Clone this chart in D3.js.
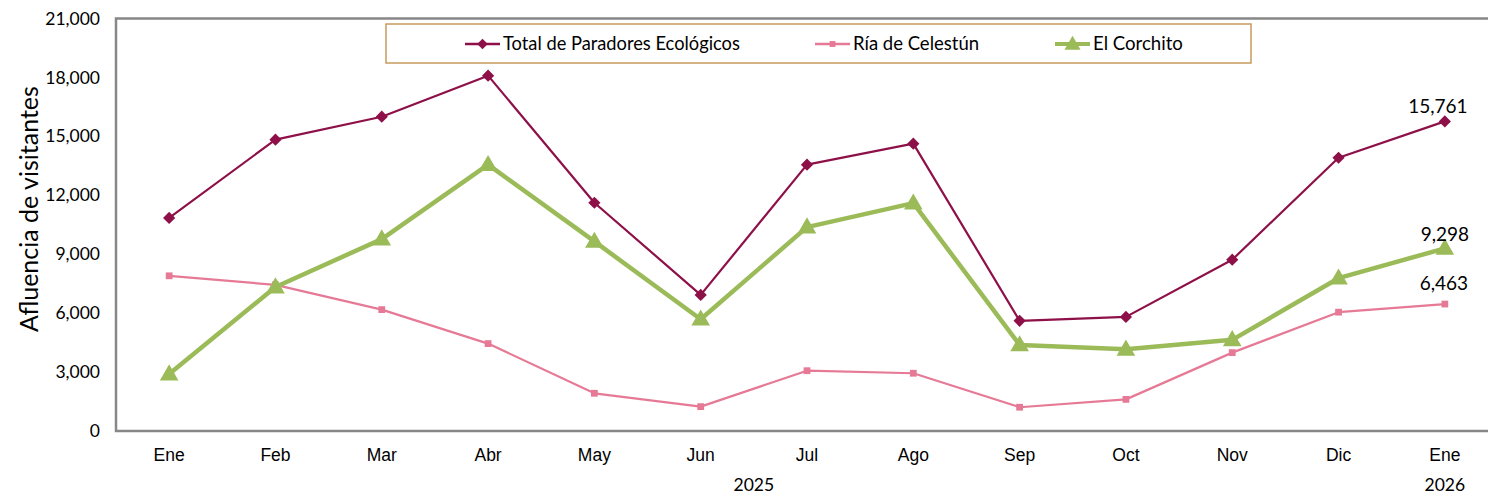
<!DOCTYPE html>
<html>
<head>
<meta charset="utf-8">
<script src="https://cdn.jsdelivr.net/npm/d3@7"></script>
<style>
  body { margin: 0; background: #fff; }
  svg { display: block; font-family: Lato, "Open Sans", sans-serif; }
</style>
</head>
<body>
<svg class="chart"></svg>
<script>
var months = ["Ene", "Feb", "Mar", "Abr", "May", "Jun", "Jul", "Ago", "Sep", "Oct", "Nov", "Dic", "Ene"];
var keys = ["Ene25", "Feb", "Mar", "Abr", "May", "Jun", "Jul", "Ago", "Sep", "Oct", "Nov", "Dic", "Ene26"];
var years = [{ label: "2025", from: 0, to: 11 }, { label: "2026", from: 12, to: 12 }];

var total = [10850, 14830, 16000, 18090, 11620, 6930, 13560, 14630, 5610, 5810, 8720, 13910, 15761];
var celestun = [7900, 7440, 6180, 4450, 1920, 1240, 3070, 2940, 1210, 1610, 3990, 6050, 6463];
var corchito = [2900, 7330, 9770, 13560, 9650, 5690, 10380, 11600, 4380, 4160, 4640, 7780, 9298];

var yTicks = [0, 3000, 6000, 9000, 12000, 15000, 18000, 21000];

var series = [
  { name: "Total de Paradores Ecológicos", values: total, color: "#8e1048", width: 2.2, marker: d3.symbolDiamond2, size: 95 },
  { name: "Ría de Celestún", values: celestun, color: "#e67a96", width: 2.2, marker: d3.symbolSquare, size: 46 },
  { name: "El Corchito", values: corchito, color: "#9bbb59", width: 4.5, marker: d3.symbolTriangle, size: 150 }
];

let W = 1488, H = 496;
let pLeft = 116, pTop = 18.5, pBottom = 431;
let pRight = 1498;

var svg = d3.select(".chart").attr("width", W).attr("height", H);

var x = d3.scaleBand().domain(keys).range([pLeft, pRight]);
var y = d3.scaleLinear().domain([0, 21000]).range([pBottom, pTop]);

// frame
svg.append("rect")
   .attr("x", pLeft).attr("y", pTop)
   .attr("width", pRight - pLeft).attr("height", pBottom - pTop)
   .attr("fill", "none")
   .attr("stroke", "#878787")
   .attr("stroke-width", 2.5);

// y axis
var ya = svg.append("g")
   .attr("transform", "translate(" + pLeft + ",0)")
   .call(d3.axisLeft(y).tickValues(yTicks).tickSize(0).tickPadding(16).tickFormat(d3.format(",")));
ya.select(".domain").remove();
ya.selectAll("text").attr("font-size", "17.5px").attr("fill", "#000").attr("font-family", "Lato");

svg.append("text")
   .attr("transform", "translate(38," + 209 + ") rotate(-90)")
   .attr("text-anchor", "middle")
   .attr("font-size", "25px")
   .attr("fill", "#000")
   .text("Afluencia de visitantes");

// x axis labels
var xa = svg.append("g")
   .attr("transform", "translate(0," + pBottom + ")")
   .call(d3.axisBottom(x).tickSize(0).tickFormat((d, i) => months[i]));
xa.select(".domain").remove();
xa.selectAll("text")
  .attr("font-size", "17.5px")
  .attr("fill", "#000")
  .attr("y", 30).attr("dy", 0);

svg.selectAll(".year")
   .data(years)
   .enter().append("text")
   .attr("class", "year")
   .attr("text-anchor", "middle")
   .attr("font-size", "17.5px")
   .attr("fill", "#000")
   .attr("x", d => (x(keys[d.from]) + x(keys[d.to])) / 2 + x.bandwidth() / 2)
   .attr("y", 491)
   .text(d => d.label);

// lines + markers
var line = d3.line()
   .x((d, i) => x(keys[i]) + x.bandwidth() / 2)
   .y(d => y(d));

var order = [1, 2, 0];
order.forEach(function(k) {
  var s = series[k];
  var g = svg.append("g");
  g.append("path")
   .datum(s.values)
   .attr("fill", "none")
   .attr("stroke", s.color)
   .attr("stroke-width", s.width)
   .attr("stroke-linejoin", "round")
   .attr("d", line);
  g.selectAll("path.m")
   .data(s.values)
   .enter().append("path")
   .attr("class", "m")
   .attr("fill", s.color)
   .attr("transform", (d, i) => "translate(" + (x(keys[i]) + x.bandwidth() / 2) + "," + (y(d) + (s.marker === d3.symbolTriangle ? 1 : 0)) + ")")
   .attr("d", d3.symbol().type(s.marker).size(s.size));
});

// last value labels
var last = keys.length - 1;
var labelOff = [-8, -14, -7];
series.forEach(function(s, k) {
  svg.append("text")
     .attr("x", x(keys[last]) + x.bandwidth() / 2 - [7, 1, 0][k])
     .attr("y", y(s.values[last]) + labelOff[k])
     .attr("text-anchor", "middle")
     .attr("font-size", "19px")
     .attr("fill", "#000")
     .text(d3.format(",")(s.values[last]));
});

// legend
var lg = svg.append("g");
lg.append("rect")
  .attr("x", 386).attr("y", 24)
  .attr("width", 865).attr("height", 39)
  .attr("fill", "#fff")
  .attr("stroke", "#c99a5e")
  .attr("stroke-width", 1.5);

var legX = [465, 815, 1055];
var legLen = [237, 126, 90];
series.forEach(function(s, k) {
  var it = lg.append("g").attr("transform", "translate(" + legX[k] + ",44)");
  it.append("line")
    .attr("x1", 0).attr("x2", 35)
    .attr("stroke", s.color)
    .attr("stroke-width", s.width < 3 ? 2.5 : 4);
  it.append("path")
    .attr("transform", "translate(17.5," + (s.marker === d3.symbolTriangle ? 1 : 0) + ")")
    .attr("fill", s.color)
    .attr("d", d3.symbol().type(s.marker).size(s.size * 0.75));
  var t = it.append("text")
    .attr("x", 38).attr("y", 6)
    .attr("font-size", "18px")
    .attr("fill", "#000")
    .text(s.name);
  var fs = 18 * legLen[k] / t.node().getComputedTextLength();
  t.attr("font-size", fs.toFixed(1) + "px");
});
</script>
</body>
</html>
